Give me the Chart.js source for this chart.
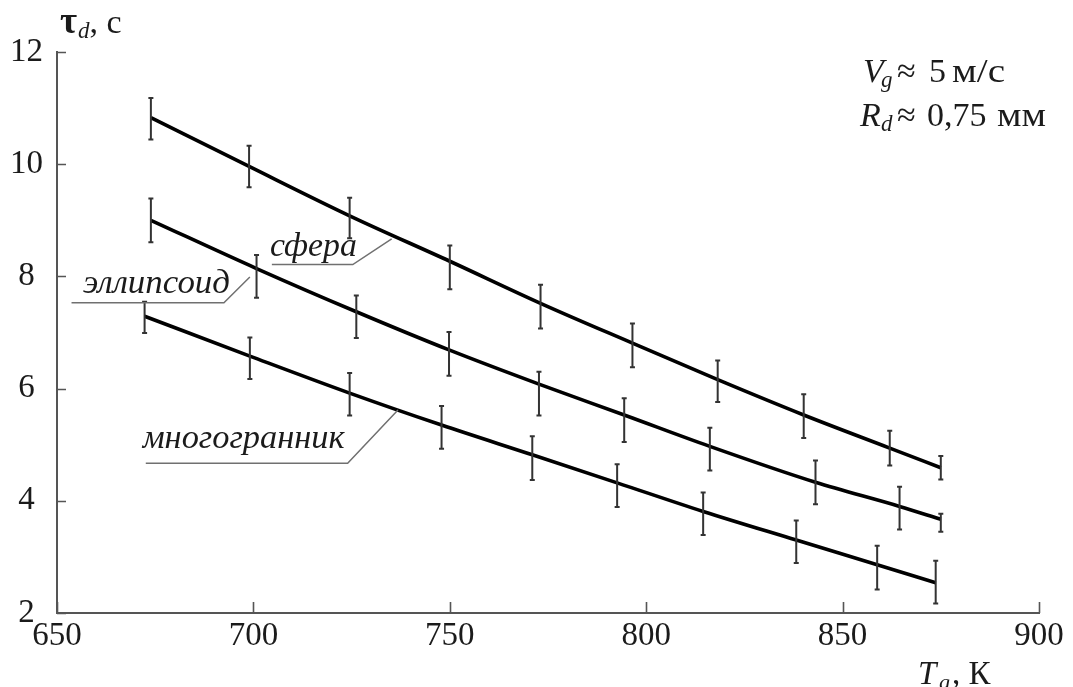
<!DOCTYPE html>
<html>
<head>
<meta charset="utf-8">
<script src="https://cdn.jsdelivr.net/npm/chart.js@4.4.1/dist/chart.umd.min.js"></script>
<style>
  html, body { margin: 0; padding: 0; background: #fff; }
  #wrap { width: 1073px; height: 687px; }
</style>
</head>
<body>
<div id="wrap"><canvas id="chart" width="1073" height="687"></canvas></div>
<script>
// Drop lifetime tau_d (s) versus gas temperature T_g (K) for three particle shapes.
const X_TICKS = [650, 700, 750, 800, 850, 900];
const Y_TICKS = [2, 4, 6, 8, 10, 12];

// сфера
const TEMP_SPHERE = [673.9, 698.9, 724.5, 750.0, 773.1, 796.5, 818.2, 840.1, 862.0, 875.0];
const TAU_SPHERE  = [10.81, 9.96, 9.04, 8.16, 7.46, 6.77, 6.13, 5.51, 4.94, 4.59];
const ERR_SPHERE  = [0.37, 0.37, 0.36, 0.39, 0.39, 0.39, 0.37, 0.39, 0.31, 0.21];
const FIT_SPHERE  = [10.83, 9.96, 9.08, 8.27, 7.52, 6.81, 6.16, 5.53, 4.94, 4.59];

// эллипсоид
const TEMP_ELLIPSOID = [673.9, 700.8, 726.2, 749.8, 772.7, 794.4, 816.2, 843.1, 864.5, 875.0];
const TAU_ELLIPSOID  = [9.00, 8.00, 7.28, 6.62, 5.91, 5.44, 4.92, 4.33, 3.87, 3.61];
const ERR_ELLIPSOID  = [0.39, 0.38, 0.38, 0.39, 0.39, 0.39, 0.38, 0.39, 0.38, 0.16];
const FIT_ELLIPSOID  = [9.00, 8.14, 7.37, 6.69, 6.08, 5.53, 4.97, 4.33, 3.90, 3.67];

// многогранник
const TEMP_POLYHEDRON = [672.3, 699.1, 724.5, 747.9, 771.0, 792.6, 814.5, 838.2, 858.8, 873.7];
const TAU_POLYHEDRON  = [7.27, 6.54, 5.90, 5.31, 4.76, 4.27, 3.77, 3.27, 2.81, 2.55];
const ERR_POLYHEDRON  = [0.28, 0.37, 0.38, 0.38, 0.39, 0.38, 0.38, 0.38, 0.39, 0.38];
const FIT_POLYHEDRON  = [7.29, 6.58, 5.92, 5.35, 4.82, 4.32, 3.81, 3.30, 2.86, 2.54];

const SERIES_NAMES = ['сфера', 'эллипсоид', 'многогранник'];

const SERIF = '"Liberation Serif", "Times New Roman", serif';
const INK = '#1b1b1b';
const AXIS = '#555';

const toPoints = (xs, ys) => xs.map((x, i) => ({ x: x, y: ys[i] }));

function fitDataset(name, xs, ys) {
  return {
    label: name,
    data: toPoints(xs, ys),
    showLine: true,
    borderColor: '#000',
    borderWidth: 3.6,
    pointRadius: 0,
    cubicInterpolationMode: 'monotone',
    fill: false
  };
}
function errDataset(name, xs, ys, errs) {
  return {
    label: name + ' (измерения)',
    data: toPoints(xs, ys),
    errors: errs,
    showLine: false,
    pointRadius: 0,
    pointHoverRadius: 0
  };
}

// Callout placement in axis units: text anchor, text width (px) and leader polyline.
const CALLOUTS = [
  { text: SERIES_NAMES[0], at: [704.2, 8.37], w: 87,  leader: [[704.7, 8.21], [725.3, 8.21], [735.2, 8.67]] },
  { text: SERIES_NAMES[1], at: [656.6, 7.71], w: 147, leader: [[653.7, 7.53], [692.5, 7.53], [699.1, 7.99]] },
  { text: SERIES_NAMES[2], at: [671.8, 4.94], w: 202, leader: [[672.6, 4.67], [724.0, 4.67], [736.8, 5.62]] }
];

// Draw a text run at x, baseline y; optionally stretched to width w. Returns the advance.
function drawText(ctx, t, x, y, font, w) {
  ctx.font = font;
  const m = ctx.measureText(t).width;
  if (w && m > 0) {
    ctx.save();
    ctx.translate(x, y);
    ctx.scale(w / m, 1);
    ctx.fillText(t, 0, 0);
    ctx.restore();
    return w;
  }
  ctx.fillText(t, x, y);
  return m;
}
const fnt = (size, italic, bold) => (italic ? 'italic ' : '') + (bold ? 'bold ' : '') + size + 'px ' + SERIF;

const errorBars = {
  id: 'errorBars',
  afterDatasetsDraw(chart) {
    const ctx = chart.ctx;
    const xs = chart.scales.x, ys = chart.scales.y;
    ctx.save();
    ctx.strokeStyle = '#333';
    ctx.lineWidth = 2;
    chart.data.datasets.forEach(ds => {
      if (!ds.errors) return;
      ds.data.forEach((p, i) => {
        const e = ds.errors[i];
        const px = xs.getPixelForValue(p.x);
        const top = ys.getPixelForValue(p.y + e);
        const bot = ys.getPixelForValue(p.y - e);
        ctx.beginPath();
        ctx.moveTo(px, top); ctx.lineTo(px, bot);
        ctx.moveTo(px - 2.5, top); ctx.lineTo(px + 2.5, top);
        ctx.moveTo(px - 2.5, bot); ctx.lineTo(px + 2.5, bot);
        ctx.stroke();
      });
    });
    ctx.restore();
  }
};

const decorations = {
  id: 'decorations',
  afterDraw(chart) {
    const ctx = chart.ctx;
    const xs = chart.scales.x, ys = chart.scales.y;
    const area = chart.chartArea;
    ctx.save();

    // inward tick marks
    ctx.strokeStyle = AXIS;
    ctx.lineWidth = 1.6;
    ctx.beginPath();
    X_TICKS.forEach(v => {
      const px = Math.round(xs.getPixelForValue(v)) + 0.5;
      ctx.moveTo(px, area.bottom); ctx.lineTo(px, area.bottom - 11);
    });
    Y_TICKS.forEach(v => {
      const py = Math.round(ys.getPixelForValue(v)) + 0.5;
      ctx.moveTo(area.left, py); ctx.lineTo(area.left + 9, py);
    });
    ctx.stroke();

    // series callouts
    ctx.strokeStyle = '#707070';
    ctx.lineWidth = 1.5;
    ctx.fillStyle = INK;
    ctx.textBaseline = 'alphabetic';
    ctx.textAlign = 'left';
    CALLOUTS.forEach(c => {
      ctx.beginPath();
      c.leader.forEach((pt, i) => {
        const px = xs.getPixelForValue(pt[0]);
        const py = ys.getPixelForValue(pt[1]);
        if (i === 0) ctx.moveTo(px, py); else ctx.lineTo(px, py);
      });
      ctx.stroke();
      drawText(ctx, c.text, xs.getPixelForValue(c.at[0]), ys.getPixelForValue(c.at[1]), fnt(34, true), c.w);
    });

    // y axis title
    let x = 60;
    x += drawText(ctx, 'τ', x, 33, fnt(37, false, true)) + 1;
    x += drawText(ctx, 'd', x, 38, fnt(23, true));
    drawText(ctx, ', с', x, 33, fnt(34));

    // x axis title
    drawText(ctx, 'T', 918, 684, fnt(33, true));
    drawText(ctx, 'g', 939, 689, fnt(22, true));
    drawText(ctx, ', К', 952, 684, fnt(33));

    // experiment conditions
    drawText(ctx, 'V', 863, 82, fnt(34, true));
    drawText(ctx, 'g', 881, 87, fnt(23, true));
    drawText(ctx, '≈', 897, 82, fnt(34));
    drawText(ctx, '5', 929, 82, fnt(34));
    drawText(ctx, 'м/с', 952, 82, fnt(34), 53);

    drawText(ctx, 'R', 860, 126, fnt(34, true));
    drawText(ctx, 'd', 881, 131, fnt(23, true));
    drawText(ctx, '≈', 897, 126, fnt(34));
    drawText(ctx, '0,75', 927, 126, fnt(34));
    drawText(ctx, 'мм', 997, 126, fnt(34), 49);
    ctx.restore();
  }
};

new Chart(document.getElementById('chart'), {
  type: 'scatter',
  data: {
    datasets: [
      fitDataset(SERIES_NAMES[0], TEMP_SPHERE, FIT_SPHERE),
      fitDataset(SERIES_NAMES[1], TEMP_ELLIPSOID, FIT_ELLIPSOID),
      fitDataset(SERIES_NAMES[2], TEMP_POLYHEDRON, FIT_POLYHEDRON),
      errDataset(SERIES_NAMES[0], TEMP_SPHERE, TAU_SPHERE, ERR_SPHERE),
      errDataset(SERIES_NAMES[1], TEMP_ELLIPSOID, TAU_ELLIPSOID, ERR_ELLIPSOID),
      errDataset(SERIES_NAMES[2], TEMP_POLYHEDRON, TAU_POLYHEDRON, ERR_POLYHEDRON)
    ]
  },
  options: {
    responsive: false,
    animation: false,
    events: [],
    layout: { padding: { left: 0, right: 34, top: 52, bottom: 0 } },
    plugins: { legend: { display: false }, tooltip: { enabled: false } },
    scales: {
      x: {
        type: 'linear',
        min: X_TICKS[0],
        max: X_TICKS[X_TICKS.length - 1],
        afterBuildTicks: s => { s.ticks = X_TICKS.map(v => ({ value: v })); },
        afterFit: s => { s.height = 74; },
        grid: { display: false, drawTicks: false },
        border: { display: true, color: AXIS, width: 2 },
        ticks: {
          padding: 4,
          maxRotation: 0,
          autoSkip: false,
          color: INK,
          font: { family: SERIF, size: 33 }
        }
      },
      y: {
        type: 'linear',
        min: Y_TICKS[0],
        max: Y_TICKS[Y_TICKS.length - 1],
        afterBuildTicks: s => { s.ticks = Y_TICKS.map(v => ({ value: v })); },
        afterFit: s => { s.width = 57; },
        grid: { display: false, drawTicks: false },
        border: { display: true, color: AXIS, width: 2 },
        ticks: {
          padding: 14,
          crossAlign: 'center',
          autoSkip: false,
          color: INK,
          font: { family: SERIF, size: 33 }
        }
      }
    }
  },
  plugins: [errorBars, decorations]
});
</script>
</body>
</html>
